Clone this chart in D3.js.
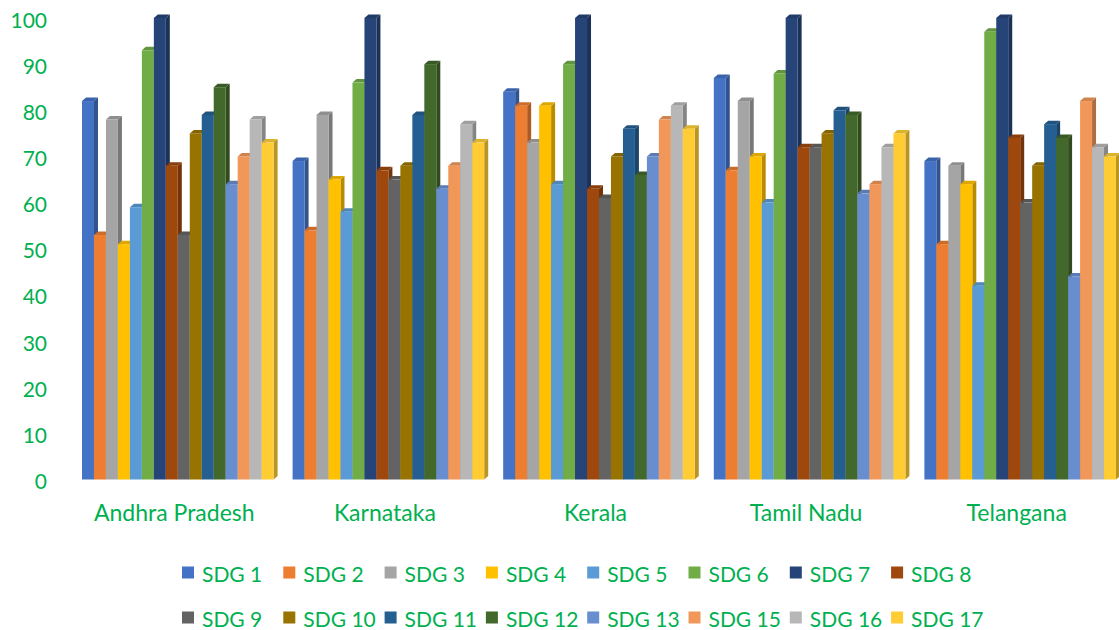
<!DOCTYPE html>
<html lang="en">
<head>
    <meta charset="UTF-8">
    <title>SDG scores by state</title>
    <script src="https://d3js.org/d3.v7.min.js"></script>
    <style>
        body {margin: 0; background: #fff;}
        text {
            font-family: Lato, "Open Sans", sans-serif;
            fill: #00B050;
        }
    </style>
</head>
<body>
<script>
    const width = 1119;
    const height = 630;

    const states = ["Andhra Pradesh", "Karnataka", "Kerala", "Tamil Nadu", "Telangana"];
    const goals = ["SDG 1", "SDG 2", "SDG 3", "SDG 4", "SDG 5", "SDG 6", "SDG 7", "SDG 8",
                   "SDG 9", "SDG 10", "SDG 11", "SDG 12", "SDG 13", "SDG 15", "SDG 16", "SDG 17"];
    const colors = ["#4472C4", "#ED7D31", "#A5A5A5", "#FFC000", "#5B9BD5", "#70AD47", "#264478", "#9E480E",
                    "#636363", "#997300", "#255E91", "#43682B", "#698ED0", "#F1975A", "#B7B7B7", "#FFCD33"];

    // one array per state, in the order of goals
    const andhraPradesh = [82, 53, 78, 51, 59, 93, 100, 68, 53, 75, 79, 85, 64, 70, 78, 73];
    const karnataka     = [69, 54, 79, 65, 58, 86, 100, 67, 65, 68, 79, 90, 63, 68, 77, 73];
    const kerala        = [84, 81, 73, 81, 64, 90, 100, 63, 61, 70, 76, 66, 70, 78, 81, 76];
    const tamilNadu     = [87, 67, 82, 70, 60, 88, 100, 72, 72, 75, 80, 79, 62, 64, 72, 75];
    const telangana     = [69, 51, 68, 64, 42, 97, 100, 74, 60, 68, 77, 74, 44, 82, 72, 70];
    const yTicks = [0, 10, 20, 30, 40, 50, 60, 70, 80, 90, 100];

    const values = [andhraPradesh, karnataka, kerala, tamilNadu, telangana];

    const svg = d3.select("body").append("svg")
            .attr("width", width).attr("height", height);

    const x0 = d3.scaleBand().domain(states).range([69, 1122]);
    const x1 = d3.scaleBand().domain(goals).range([13, x0.bandwidth() - 6]);
    const y = d3.scaleLinear().domain([0, 100]).range([479.5, 18]);
    const color = d3.scaleOrdinal().domain(goals).range(colors);

    const dx = 4, dy = 3.5;

    // y axis labels only, no lines
    svg.append("g").selectAll("text")
            .data(yTicks)
            .enter()
            .append("text")
            .attr("x", 47)
            .attr("y", d => y(d) + 1)
            .attr("text-anchor", "end")
            .attr("dominant-baseline", "central")
            .style("font-size", "21px")
            .text(d => d);

    const rows = [];
    values.forEach((vals, si) => {
        vals.forEach((v, gi) => rows.push({state: states[si], goal: goals[gi], value: v}));
    });

    const bars = svg.selectAll("g.bar")
            .data(rows)
            .enter()
            .append("g")
            .attr("class", "bar")
            .attr("transform", d => `translate(${x0(d.state) + x1(d.goal)},0)`);

    const w = x1.bandwidth();

    // side face
    bars.append("path")
            .attr("d", d => {
                const t = y(d.value), b = y(0);
                return `M${w},${t} L${w + dx},${t - dy} L${w + dx},${b - dy} L${w},${b} Z`;
            })
            .style("fill", d => d3.color(color(d.goal)).darker(0.9));

    // top face
    bars.append("path")
            .attr("d", d => {
                const t = y(d.value);
                return `M0,${t} L${dx},${t - dy} L${w + dx},${t - dy} L${w},${t} Z`;
            })
            .style("fill", d => d3.color(color(d.goal)).darker(0.4));

    // front face
    bars.append("rect")
            .attr("x", 0)
            .attr("y", d => y(d.value))
            .attr("width", w)
            .attr("height", d => y(0) - y(d.value))
            .style("fill", d => color(d.goal));

    // category labels
    svg.append("g").selectAll("text")
            .data(states)
            .enter()
            .append("text")
            .attr("x", d => x0(d) + x0.bandwidth() / 2)
            .attr("y", 521)
            .attr("text-anchor", "middle")
            .style("font-size", "23px")
            .text(d => d);

    // legend, two rows of eight
    const legend = svg.selectAll("g.legend")
            .data(goals)
            .enter()
            .append("g")
            .attr("class", "legend")
            .attr("transform", (d, i) => `translate(${182 + (i % 8) * 101.3},${572.5 + Math.floor(i / 8) * 45})`);

    legend.append("rect")
            .attr("x", 0).attr("y", -6)
            .attr("width", 12).attr("height", 12)
            .style("fill", d => color(d));

    legend.append("text")
            .attr("x", 20)
            .attr("y", 1)
            .attr("dominant-baseline", "central")
            .style("font-size", "21px")
            .text(d => d);
</script>
</body>
</html>
